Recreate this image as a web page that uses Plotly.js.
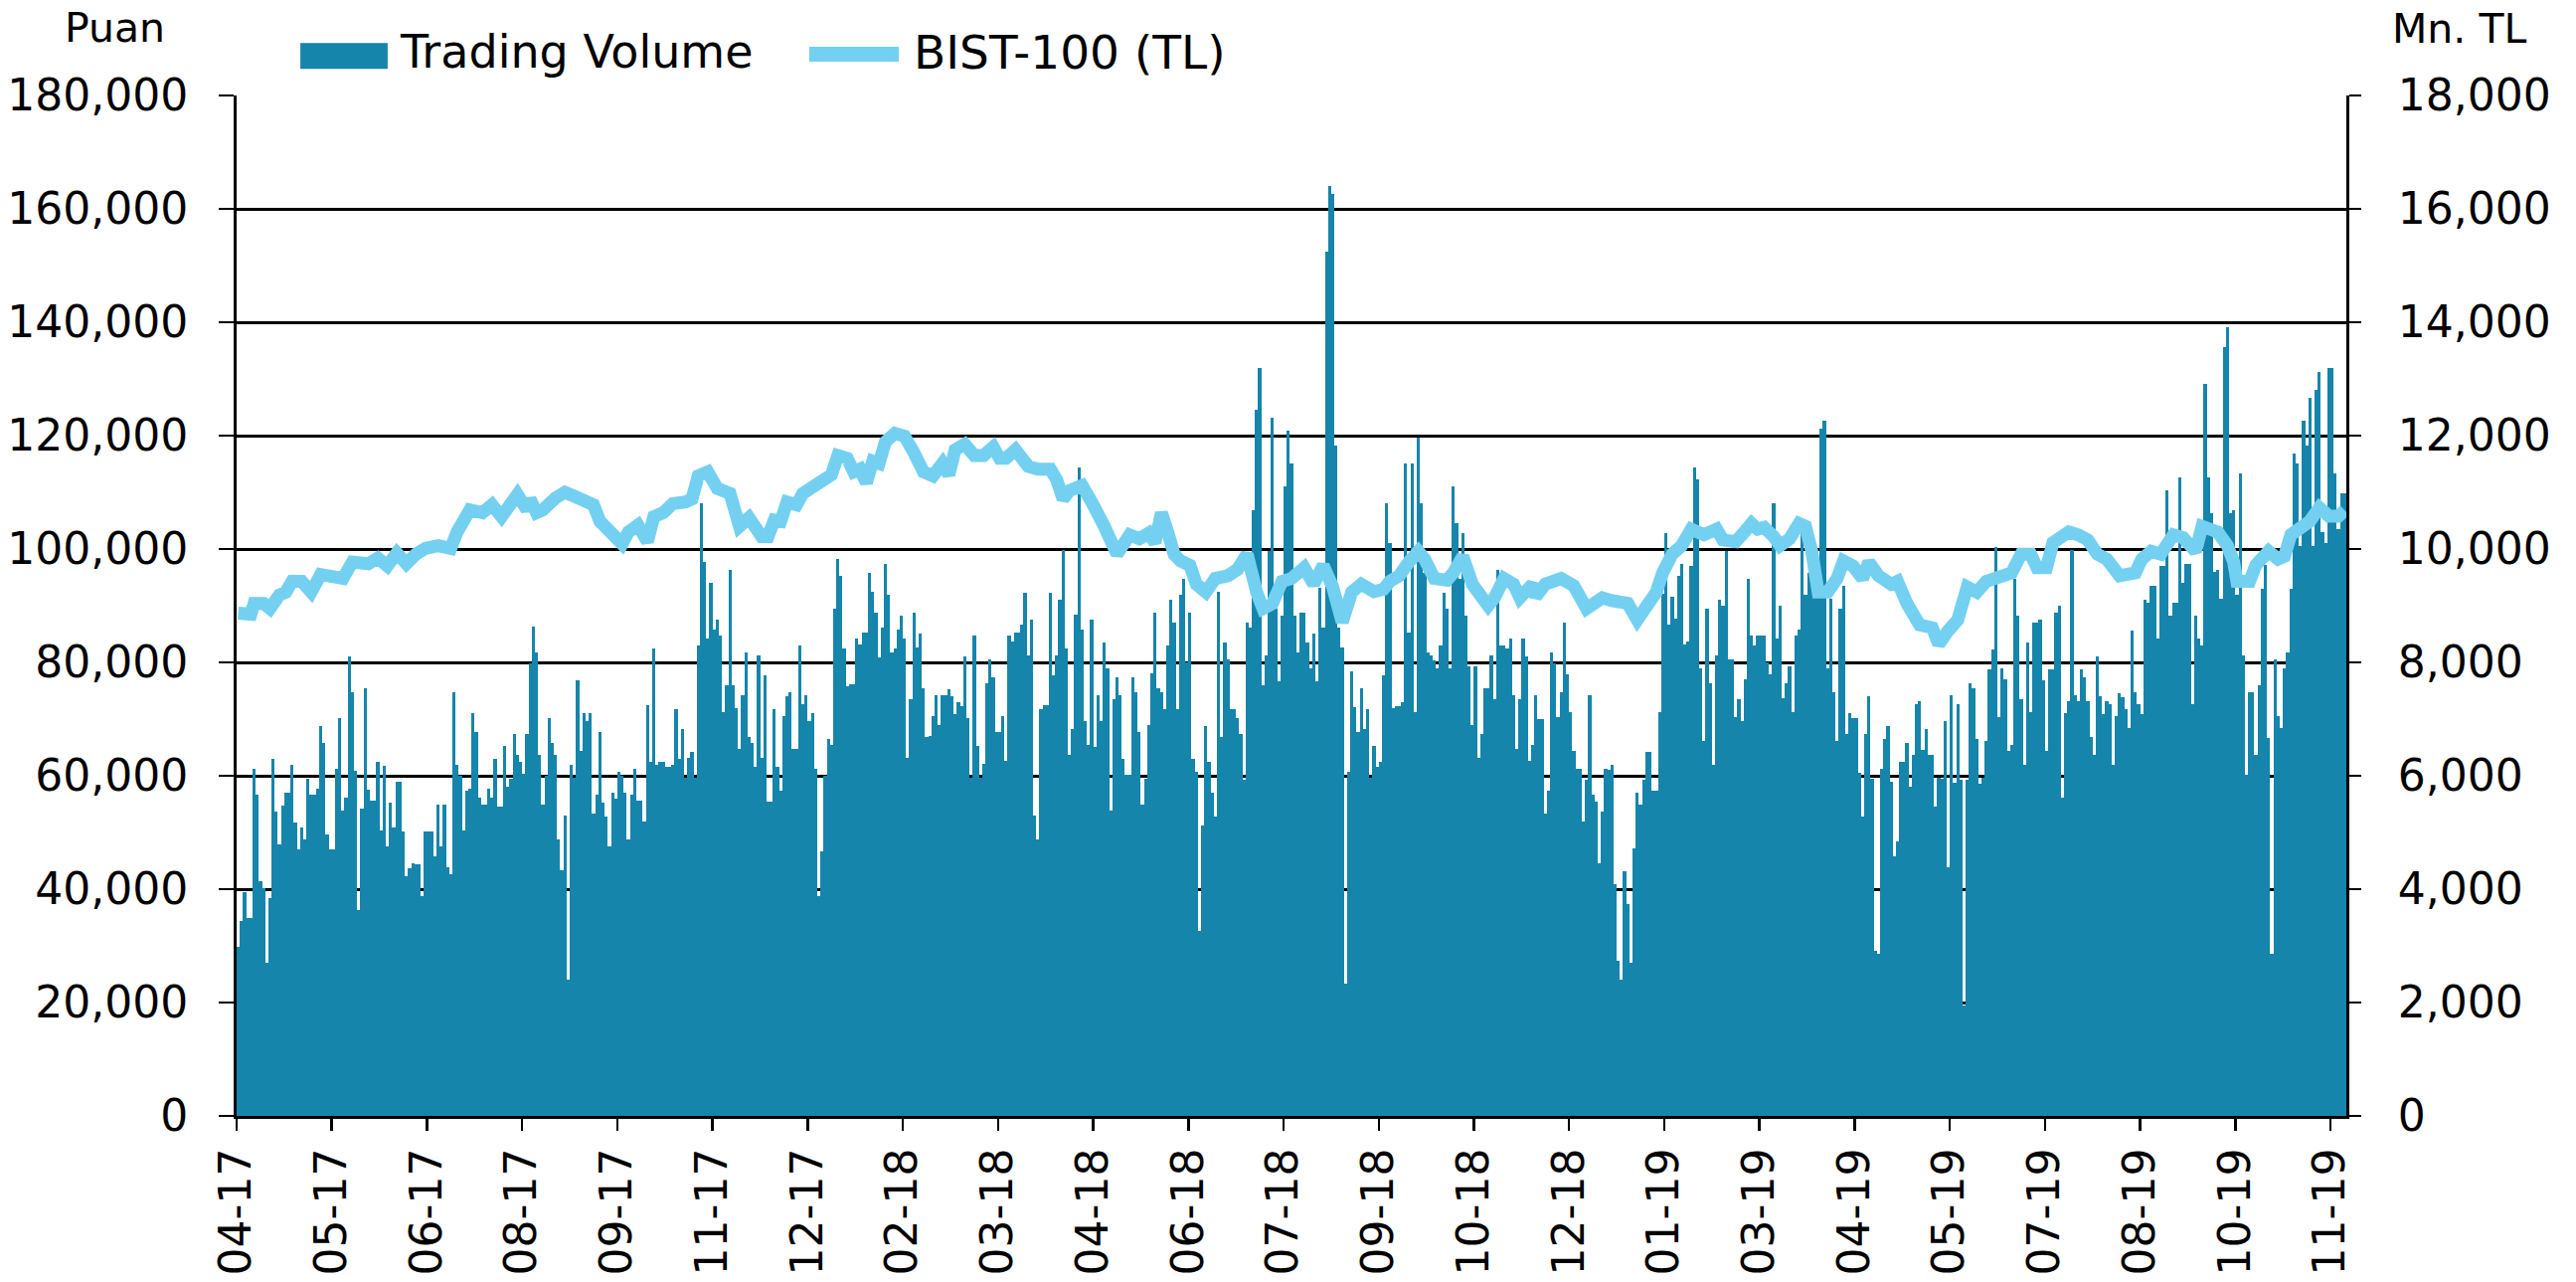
<!DOCTYPE html>
<html>
<head>
<meta charset="utf-8">
<script src="https://cdn.plot.ly/plotly-3.0.1.min.js"></script>
<style>
  html, body { margin: 0; padding: 0; background: #fff; }
  #chart { width: 2591px; height: 1289px; }
</style>
</head>
<body>
<div id="chart"></div>
<script>
// BIST trading volume (daily bars, Mn. TL, right axis) and BIST-100 index (line, Puan, left axis)
// values, one bar per trading day

var tickLabels = ['04-17', '05-17', '06-17', '08-17', '09-17', '11-17', '12-17', '02-18', '03-18', '04-18',
    '06-18', '07-18', '09-18', '10-18', '12-18', '01-19', '03-19', '04-19', '05-19', '07-19',
    '08-19', '10-19', '11-19'];
var tickEvery = 30; // one label every 30 trading days

// daily trading volume, Mn. TL
var tradingVolume = [
    2980, 3440, 3940, 3490, 3490, 6130, 5660, 4140, 4020, 2700,
    3850, 6290, 5370, 4790, 5470, 5710, 5710, 6190, 5180, 4700,
    5080, 4870, 5950, 5660, 5660, 5780, 6870, 6580, 4970, 4700,
    4700, 6130, 7020, 5390, 5610, 8110, 7470, 6080, 3640, 5420,
    7550, 5760, 5570, 5570, 6240, 5040, 6180, 4750, 5520, 5080,
    5900, 5900, 5010, 4220, 4360, 4460, 4430, 4430, 3880, 5010,
    5010, 5010, 4580, 5490, 4750, 5490, 4390, 4260, 7470, 6190,
    6000, 5040, 5740, 5780, 7110, 6780, 5610, 5490, 5490, 5780,
    5610, 6290, 5450, 5450, 6530, 5810, 5950, 6730, 6360, 6240,
    6030, 6730, 7980, 8640, 8180, 6360, 5490, 6000, 7020, 6580,
    6360, 4870, 4330, 5290, 2410, 6190, 5970, 7690, 6440, 7110,
    6970, 7110, 5330, 5660, 6780, 5520, 5280, 4750, 5710, 5590,
    6070, 6000, 5710, 4870, 5660, 6130, 5570, 5570, 5200, 7240,
    6240, 8240, 6190, 6240, 6240, 6150, 6150, 6190, 7180, 6290,
    6820, 5970, 6320, 6420, 5970, 8290, 10800, 9770, 8420, 9410,
    8580, 8750, 8470, 7130, 7590, 9640, 7590, 7190, 6480, 7420,
    8180, 6680, 6580, 6150, 8130, 6320, 7770, 5550, 5550, 7180,
    6150, 5740, 7060, 7400, 7480, 6480, 6480, 8290, 7260, 7420,
    6970, 7110, 6130, 3880, 4670, 6000, 6650, 6550, 8950, 9820,
    9530, 8240, 7580, 7620, 7620, 8420, 8320, 8530, 8530, 9580,
    9240, 8870, 8080, 8610, 9740, 9190, 8180, 8240, 8580, 8820,
    8420, 6320, 7350, 8870, 8270, 8510, 7550, 6680, 6710, 7060,
    7420, 6900, 7420, 7420, 7520, 7400, 7080, 7290, 7230, 8110,
    7020, 5970, 8470, 6530, 5970, 6210, 7640, 8060, 7740, 6780,
    6780, 7060, 6260, 8470, 8370, 8530, 8530, 8660, 9220, 8130,
    8750, 5300, 4870, 7180, 7240, 7240, 9220, 7770, 8130, 9110,
    9980, 8240, 6360, 6820, 8850, 11430, 8580, 6970, 6550, 8750,
    6510, 7420, 6970, 8350, 7890, 5390, 7350, 7740, 7420, 6290,
    6020, 6020, 7740, 7470, 6780, 5490, 5950, 6890, 7810, 8870,
    7550, 7480, 7180, 8290, 9110, 8710, 7180, 9190, 9480, 8000,
    8870, 6290, 6070, 3270, 5130, 6870, 6240, 5710, 5280, 9240,
    6680, 8350, 8050, 7180, 7180, 7020, 6730, 5930, 8710, 8610,
    10690, 12450, 13200, 7590, 8130, 9960, 12310, 8950, 7660, 8830,
    11100, 12090, 11510, 8820, 8180, 8870, 8870, 8350, 7890, 8510,
    7660, 9310, 8610, 15250, 16410, 16270, 11820, 8610, 8270, 2330,
    6070, 7840, 7210, 6780, 7550, 6820, 7180, 5970, 6530, 6150,
    6240, 7770, 10810, 10110, 7190, 7230, 7230, 7290, 11510, 8530,
    11510, 7130, 11970, 10810, 9580, 8180, 8130, 8030, 7900, 8290,
    9220, 8950, 7900, 11100, 10450, 9480, 10280, 8830, 7930, 6900,
    7930, 6310, 6730, 7550, 7550, 8130, 7350, 9640, 8290, 8290,
    8240, 8420, 7420, 6480, 7350, 8420, 8100, 6260, 6550, 7420,
    7000, 7000, 5330, 5740, 8180, 7980, 7040, 7480, 8710, 7790,
    7130, 6440, 6130, 6130, 5200, 5930, 7420, 5660, 5550, 4460,
    5370, 6130, 6100, 6190, 4090, 2740, 2410, 4310, 3730, 2700,
    4720, 5710, 5490, 5930, 6420, 6420, 5740, 5740, 7130, 9210,
    10280, 8660, 9160, 8770, 9530, 9740, 8320, 8370, 9700, 11440,
    11220, 7900, 6610, 8950, 7640, 6190, 8130, 9110, 9000, 9960,
    8050, 8050, 7040, 7350, 6970, 7710, 9480, 8470, 8290, 8470,
    8470, 8470, 8000, 7790, 10810, 8420, 9000, 7370, 7640, 7930,
    7130, 8470, 8580, 10280, 9190, 9580, 10280, 10010, 9480, 12120,
    12260, 7900, 9120, 7470, 6610, 8950, 9350, 6730, 7110, 7020,
    7020, 6050, 5280, 6730, 7400, 5950, 2910, 2860, 6130, 6650,
    6870, 5900, 4580, 4840, 6240, 6240, 6580, 5810, 6360, 7260,
    7310, 6460, 6820, 6360, 6360, 5450, 5970, 5950, 6970, 4390,
    7420, 5880, 7260, 5930, 1940, 5930, 7640, 7550, 6650, 5860,
    5970, 6610, 7870, 8220, 10030, 7040, 7890, 7710, 6440, 6550,
    9480, 8820, 7350, 6190, 8350, 7130, 8710, 8710, 8750, 7690,
    6440, 7870, 7870, 8870, 9000, 5610, 7110, 7310, 9980, 7420,
    7310, 7870, 7740, 7310, 6680, 6360, 8100, 7400, 7090, 7320,
    7260, 6190, 7060, 7450, 7380, 7180, 6840, 8560, 7470, 7260,
    7080, 9110, 9050, 9350, 9350, 8420, 9700, 9700, 11040, 8830,
    9050, 9050, 11260, 9410, 9740, 9740, 7260, 8820, 8420, 8290,
    12910, 11260, 10640, 9600, 9640, 9120, 13560, 13920, 10640, 10690,
    9190, 11340, 8130, 6020, 7470, 7470, 6360, 7590, 9290, 9720,
    6660, 2860, 8050, 7060, 6840, 7890, 8180, 9290, 11680, 11510,
    10060, 12260, 11820, 12670, 10060, 12810, 13130, 10300, 10110, 13200,
    13200, 11340, 10350, 10980, 10980
];

// BIST-100 closing level, Puan, read at these trading days
var bistDay = [
    0, 4, 5, 8, 10, 13, 15, 17, 20, 23, 26, 30, 33, 36, 41, 44, 47, 50, 53, 56,
    59, 63, 67, 69, 71, 73, 77, 80, 83, 86, 88, 91, 92, 94, 96, 100, 103, 106, 109, 112,
    114, 117, 119, 121, 123, 126, 129, 131, 134, 137, 141, 143, 145, 148, 151, 155, 158, 161, 165, 167,
    169, 171, 173, 176, 178, 181, 184, 187, 189, 192, 194, 196, 198, 200, 202, 204, 207, 210, 213, 216,
    219, 222, 224, 226, 229, 232, 235, 238, 240, 242, 245, 249, 252, 256, 258, 260, 262, 266, 269, 271,
    273, 277, 279, 281, 284, 287, 289, 291, 293, 295, 297, 300, 302, 305, 308, 312, 315, 318, 321, 323,
    326, 329, 332, 336, 339, 342, 345, 348, 351, 354, 358, 361, 363, 366, 369, 372, 374, 377, 381, 383,
    386, 389, 394, 396, 399, 402, 404, 408, 409, 412, 417, 421, 425, 430, 433, 438, 441, 444, 447, 449,
    452, 455, 458, 462, 466, 468, 472, 474, 477, 479, 481, 484, 486, 489, 492, 494, 496, 498, 501, 504,
    506, 509, 512, 514, 517, 521, 523, 526, 530, 534, 536, 539, 542, 545, 548, 551, 555, 559, 562, 565,
    567, 570, 572, 577, 580, 583, 586, 589, 593, 596, 598, 600, 603, 606, 610, 613, 617, 619, 622, 624,
    627, 629, 630, 634, 636, 640, 643, 645, 647, 650, 653, 656, 659, 662, 664
];
var bistValue = [
    88700, 88500, 90400, 90400, 89500, 91900, 92400, 94300, 94300, 92400,
    95500, 94800, 94800, 97700, 97400, 98400, 97000, 99300, 97400, 99100,
    100100, 100600, 100100, 103000, 104900, 106900, 106400, 107800, 105700, 108300,
    109600, 106900, 108800, 106400, 106900, 109000, 110000, 109300, 108800, 107800,
    104900, 103500, 102500, 100900, 103000, 104200, 101300, 105700, 106400, 108000,
    108300, 108800, 112900, 113600, 110700, 109800, 104000, 105500, 102200, 102200,
    105100, 104900, 108300, 107800, 109800, 110700, 111700, 113100, 116500, 116000,
    113600, 114100, 111700, 115500, 115100, 118900, 120400, 119900, 117000, 113600,
    112900, 115100, 113100, 117500, 118500, 116500, 116500, 118000, 116000, 116000,
    117500, 114600, 114100, 114100, 112200, 108800, 110300, 111200, 108300, 106400,
    104000, 99100, 101300, 102500, 101800, 102800, 101100, 106400, 103000, 99100,
    97900, 97100, 93800, 92400, 94800, 95300, 96400, 99100, 92400, 89500,
    90400, 94300, 94800, 96700, 93800, 97100, 93300, 87100, 92400, 93800,
    92500, 92900, 94300, 95300, 97700, 99600, 98200, 94800, 94500, 95800,
    98700, 93800, 90000, 91400, 94800, 93800, 91400, 93800, 91600, 93800,
    94800, 93500, 89500, 91400, 90900, 90400, 87500, 90400, 92400, 95800,
    99100, 100600, 103500, 102500, 103500, 101600, 101300, 102500, 104500, 103500,
    103800, 102200, 100600, 101800, 104500, 104000, 99600, 92400, 92400, 94800,
    97900, 97000, 94800, 97700, 95300, 93800, 94300, 90400, 86600, 86100,
    83200, 85600, 87500, 93300, 92400, 94300, 94800, 95800, 99100, 99100,
    96700, 96700, 101100, 103000, 102500, 101600, 99100, 98200, 95300, 95800,
    95800, 98200, 99600, 99100, 102500, 102000, 99600, 104000, 103500, 103000,
    100600, 97700, 94300, 94300, 97200, 99600, 98200, 98700, 102500, 103500,
    104900, 107300, 105800, 105800, 106800
];

var barColor = '#1585ab';
var lineColor = '#74d0f1';
var fontFamily = '"DejaVu Sans", Verdana, sans-serif';

var dayIndex = tradingVolume.map(function(v, i) { return i; });
var tickVals = tickLabels.map(function(t, i) { return i * tickEvery - 0.5; });

var volumeTrace = {
    x: dayIndex,
    y: tradingVolume,
    type: 'bar',
    name: 'Trading Volume',
    yaxis: 'y',
    marker: { color: barColor, line: { width: 0 } },
    hoverinfo: 'skip'
};

var bistTrace = {
    x: bistDay,
    y: bistValue,
    type: 'scatter',
    mode: 'lines',
    name: 'BIST-100 (TL)',
    yaxis: 'y2',
    line: { color: lineColor, width: 13 },
    hoverinfo: 'skip'
};

var layout = {
    width: 2591,
    height: 1289,
    margin: { l: 238, r: 231, t: 96, b: 167 },
    paper_bgcolor: '#fff',
    plot_bgcolor: '#fff',
    showlegend: false,
    bargap: 0,
    font: { family: fontFamily, size: 41, color: '#000' },
    xaxis: {
        range: [-0.5, tradingVolume.length - 0.5],
        tickmode: 'array',
        tickvals: tickVals,
        ticktext: tickLabels,
        tickangle: -90,
        tickfont: { size: 44 },
        ticks: 'outside',
        ticklen: 12,
        tickwidth: 2.5,
        tickcolor: '#000',
        showgrid: false,
        zeroline: false,
        showline: true,
        linewidth: 3,
        linecolor: '#000'
    },
    // right axis: volume, carries the gridlines so they stay under the bars
    yaxis: {
        side: 'right',
        range: [0, 18000],
        dtick: 2000,
        tickformat: ',d',
        tickfont: { size: 44 },
        ticks: 'outside',
        ticklen: 12,
        tickwidth: 2.5,
        tickcolor: '#000',
        ticklabelstandoff: 28,
        showgrid: true,
        gridcolor: '#000',
        gridwidth: 3,
        zeroline: false,
        showline: true,
        linewidth: 3,
        linecolor: '#000'
    },
    // left axis: index level
    yaxis2: {
        side: 'left',
        overlaying: 'y',
        range: [0, 180000],
        dtick: 20000,
        tickformat: ',d',
        tickfont: { size: 44 },
        ticks: 'outside',
        ticklen: 15,
        tickwidth: 2.5,
        tickcolor: '#000',
        ticklabelstandoff: 22,
        showgrid: false,
        zeroline: false,
        showline: true,
        linewidth: 3,
        linecolor: '#000'
    },
    shapes: [
        // legend swatches
        { type: 'rect', xref: 'paper', yref: 'paper', x0: 0.0302, x1: 0.0716, y0: 1.0261, y1: 1.0515,
          fillcolor: barColor, line: { width: 0 } },
        { type: 'line', xref: 'paper', yref: 'paper', x0: 0.2714, x1: 0.3139, y0: 1.0405, y1: 1.0405,
          line: { color: lineColor, width: 15 } }
    ],
    annotations: [
        { text: 'Trading Volume', xref: 'paper', yref: 'paper', x: 0.0763, y: 1.0427,
          xanchor: 'left', yanchor: 'middle', showarrow: false, font: { size: 46 } },
        { text: 'BIST-100 (TL)', xref: 'paper', yref: 'paper', x: 0.3200, y: 1.0427,
          xanchor: 'left', yanchor: 'middle', showarrow: false, font: { size: 47 } },
        { text: 'Puan', xref: 'paper', yref: 'paper', x: -0.0577, y: 1.0666,
          xanchor: 'center', yanchor: 'middle', showarrow: false },
        { text: 'Mn. TL', xref: 'paper', yref: 'paper', x: 1.0537, y: 1.0651,
          xanchor: 'center', yanchor: 'middle', showarrow: false }
    ]
};

Plotly.newPlot('chart', [volumeTrace, bistTrace], layout, { staticPlot: true, displayModeBar: false });
</script>
</body>
</html>
